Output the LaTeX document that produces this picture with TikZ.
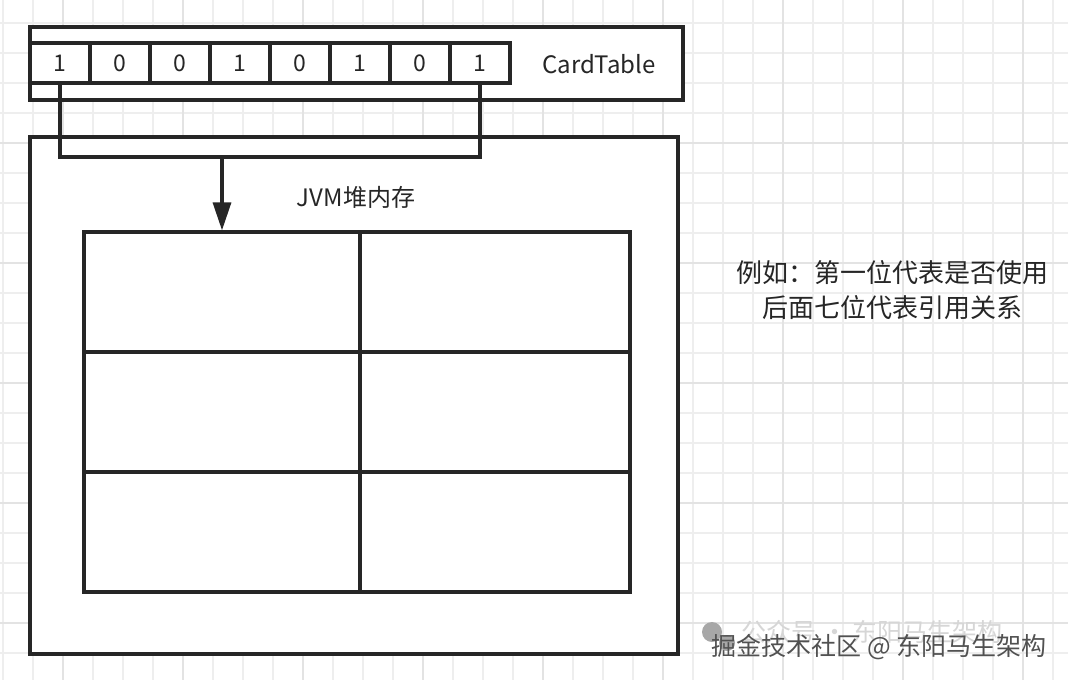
\documentclass[tikz,border=0pt]{standalone}
\usepackage{fontspec}
\setmainfont{Noto Sans CJK SC}
\usepackage{tikz}
\usetikzlibrary{positioning}
\usetikzlibrary{arrows.meta}
\usepackage{xcolor}
\definecolor{inkline}{HTML}{262626}
\definecolor{gridminor}{HTML}{EEEEEE}
\definecolor{gridmajor}{HTML}{E3E3E3}
\definecolor{markgray}{HTML}{8A8A8A}

\tikzset{
  box/.style={draw=inkline, fill=white, line width=3.2pt, inner sep=0pt},
  cell/.style={box, minimum width=60pt, minimum height=40pt, font=\fontsize{23}{26}\selectfont, text=inkline},
  heapcell/.style={box, minimum height=120pt},
  link/.style={draw=inkline, line width=3.2pt},
  label/.style={font=\fontsize{24}{27}\selectfont, text=inkline},
}

\begin{document}
\begin{tikzpicture}[x=1pt,y=-1pt]
\useasboundingbox (0,0) rectangle (1068,680);
\fill[white] (0,0) rectangle (1068,680);

% background grid
\foreach \gx in {3,33,...,1068}
  \draw[gridminor, line width=1.5pt] (\gx,0)--(\gx,680);
\foreach \gy in {23,53,...,680}
  \draw[gridminor, line width=1.5pt] (0,\gy)--(1068,\gy);
\foreach \gx in {63,183,...,1068}
  \draw[gridmajor, line width=1.5pt] (\gx,0)--(\gx,680);
\foreach \gy in {143,263,...,680}
  \draw[gridmajor, line width=1.5pt] (0,\gy)--(1068,\gy);

% card table
\node[box, minimum width=653pt, minimum height=73pt] (cardtable) at (356.5,63.5) {};
\foreach \bit [count=\i] in {1,0,0,1,0,1,0,1}
  \node[cell] (c\i) at (60*\i,63) {\bit};
\node[label] (cardlabel) at (599,64) {CardTable};

% heap
\node[box, minimum width=648pt, minimum height=517pt] (heap) at (354,395.5) {};
\node[label] (heaplabel) at (356,197) {JVM堆内存};
\foreach \row/\yc in {1/292,2/412,3/532}{
  \node[heapcell, minimum width=276pt] (h\row1) at (222,\yc) {};
  \node[heapcell, minimum width=270pt] (h\row2) at (495,\yc) {};
}

% links
\coordinate (join) at (222,157);
\draw[link] (c1.south) |- (join) -| (c8.south);
\draw[link, -{Triangle[width=18pt,length=28pt]}] (join) -- (h11.north);

% note
\node[align=center, font=\fontsize{26}{35}\selectfont, text=inkline] (note) at (892,290)
  {例如：第一位代表是否使用\\后面七位代表引用关系};

% watermark
\fill[markgray!75] (712,632) circle (10pt);
\fill[markgray!75] (727,643) circle (8pt);
\node[anchor=west, font=\fontsize{25}{28}\selectfont, text=markgray!35] (markfaint) at (738,632) {公众号 · 东阳马生架构};
\node[anchor=west, font=\fontsize{25}{28}\selectfont, text=inkline!80] (mark) at (708,647) {掘金技术社区 @ 东阳马生架构};

\end{tikzpicture}
\end{document}
